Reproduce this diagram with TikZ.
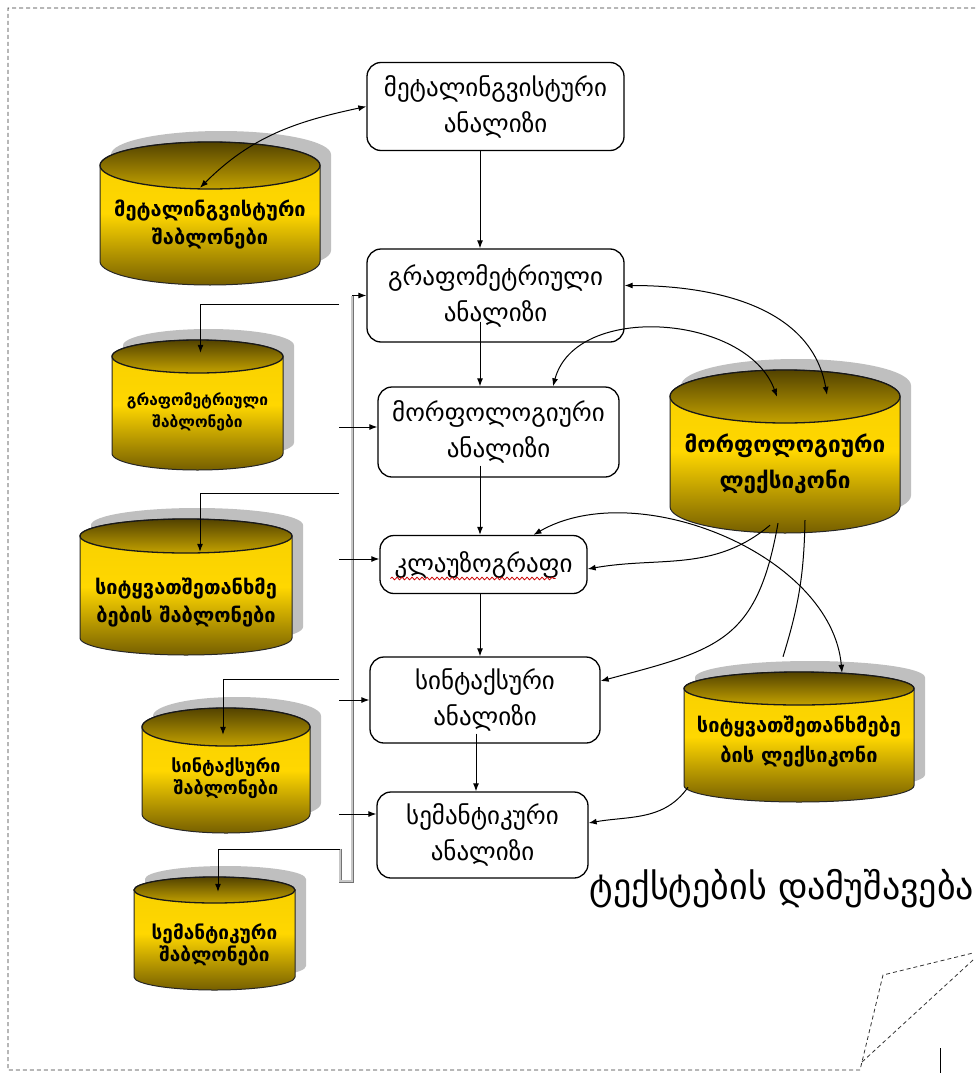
\documentclass[tikz,border=0pt]{standalone}
\usepackage{fontspec}
\setmainfont{DejaVu Sans}
\usetikzlibrary{shapes,arrows.meta,calc,decorations.pathmorphing}

\definecolor{golddark}{RGB}{118,95,0}
\definecolor{goldmid}{RGB}{196,162,0}
\definecolor{goldlight}{RGB}{255,215,0}

\tikzstyle{arrow}=[draw, line width=1pt, -{Latex[length=8pt,width=6pt]}]
\tikzstyle{both}=[draw, line width=1pt, {Latex[length=8pt,width=6pt]}-{Latex[length=8pt,width=6pt]}]
\tikzstyle{plain}=[draw, line width=1pt]
\tikzstyle{box}=[draw, line width=1.3pt, rounded corners=14pt, fill=white, align=center, inner sep=0pt, font=\fontsize{25}{36}\selectfont]
\tikzstyle{tankshadow}=[fill=black!25]
\tikzstyle{tankbody}=[draw=black!85, line width=1pt, top color=goldlight!85!goldmid, bottom color=golddark, middle color=goldlight]
\tikzstyle{tanklid}=[top color=golddark!70!black, bottom color=goldmid]
\tikzstyle{tankline}=[draw=black!90, line width=1.3pt]
\tikzstyle{tanktext}=[align=center, inner sep=0pt]
\tikzstyle{bus}=[draw=black!55, line width=0.8pt, double=black!22, double distance=1.4pt]
\tikzstyle{frame}=[draw, line width=0.8pt, black!80, dash pattern=on 4pt off 3pt]

% name, centre, width, height, lid radius, strut, font size, text
\newcommand{\tank}[8]{%
  \begin{scope}[shift={#2}]
    \path[tankshadow] ({-#3/2+11},{#4/2-#5+11}) arc[start angle=180,end angle=0,x radius=#3/2,y radius=#5] -- ({#3/2+11},{-#4/2+#5+11}) arc[start angle=0,end angle=-180,x radius=#3/2,y radius=#5] -- cycle;
    \path[tankbody] ({-#3/2},{#4/2-#5}) arc[start angle=180,end angle=0,x radius=#3/2,y radius=#5] -- ({#3/2},{-#4/2+#5}) arc[start angle=0,end angle=-180,x radius=#3/2,y radius=#5] -- cycle;
    \path[tanklid] (0,{#4/2-#5}) ellipse[x radius=#3/2,y radius=#5];
    \draw[tankline] (0,{#4/2-#5}) ellipse[x radius=#3/2,y radius=#5];
    \node[tanktext, minimum width=#3pt, minimum height=#4pt, font=\bfseries\fontsize#7\selectfont] (#1) at (0,0) {\rule{0pt}{#6pt}#8};
  \end{scope}}

\begin{document}
\begin{tikzpicture}[x=1pt,y=1pt]
\useasboundingbox (0,0) rectangle (975,-1073);

\node [box, minimum width=257pt, minimum height=88pt] (mla) at (495.5,-106.5) {მეტალინგვისტური\\ანალიზი};
\node [box, minimum width=257pt, minimum height=93pt] (gma) at (495.5,-295.5) {გრაფომეტრიული\\ანალიზი};
\node [box, minimum width=241pt, minimum height=90pt] (mfa) at (498.5,-432) {მორფოლოგიური\\ანალიზი};
\node [box, minimum width=207pt, minimum height=58pt] (klz) at (483.5,-564.5) {კლაუზოგრაფი};
\node [box, minimum width=230pt, minimum height=86pt] (sna) at (485,-700) {სინტაქსური\\ანალიზი};
\node [box, minimum width=211pt, minimum height=86pt] (sma) at (482.5,-835) {სემანტიკური\\ანალიზი};

\tank{mtpl}{(210,-213.5)}{220}{143}{23.5}{38}{{20}{28}}{მეტალინგვისტური\\შაბლონები}
\tank{gtpl}{(197.5,-405)}{171}{130}{16.5}{26}{{15.5}{22}}{გრაფომეტრიული\\შაბლონები}
\tank{wtpl}{(186,-587)}{212}{136}{17}{47}{{20}{28}}{სიტყვათშეთანხმე\\ბების შაბლონები}
\tank{ttpl}{(226,-770.5)}{168}{125}{19}{30}{{18}{22}}{სინტაქსური\\შაბლონები}
\tank{stpl}{(214.5,-933.5)}{161}{113}{13}{39}{{19}{22}}{სემანტიკური\\შაბლონები}
\tank{mlex}{(785,-451.5)}{230}{163}{26.5}{44}{{22.5}{36}}{მორფოლოგიური\\ლექსიკონი}
\tank{wlex}{(799,-737)}{230}{130}{16.5}{25}{{20}{30}}{სიტყვათშეთანხმებე\\ბის ლექსიკონი}

\node (title) at (782,-889) {\fontsize{36}{40}\selectfont ტექსტების დამუშავება};

\draw [red!80!black, line width=0.8pt, decorate, decoration={snake, amplitude=1.3pt, segment length=5pt}] ($(klz.center)+(-93,-14)$) -- ($(klz.center)+(72,-14)$);

\coordinate (spine) at (480,0);
\coordinate (spinelow) at (476,0);
\draw [arrow] (mla.south -| spine) -- (gma.north -| spine);
\draw [arrow] ($(gma.south -| spine)+(0,21)$) -- (mfa.north -| spine);
\draw [arrow] ($(mfa.south -| spine)+(0,12)$) -- (klz.north -| spine);
\draw [arrow] (klz.south -| spine) -- (sna.north -| spine);
\draw [arrow] ($(sna.south -| spinelow)+(0,10)$) -- (sma.north -| spinelow);

\coordinate (bustop) at (352,-295.5);
\coordinate (busbot) at (352,-881);
\coordinate (jog) at (340,-881);
\coordinate (ftE) at (340,-849);
\coordinate (ftB) at (339,-304);
\coordinate (ftC) at (339,-493);
\coordinate (ftD) at (339,-679);
\draw [bus] (ftE) -- (jog) -- (busbot) -- (bustop);
\draw [arrow] (bustop) -- (gma.west);
\draw [arrow] (ftB) -| ($(gtpl.north)+(3,-13)$);
\draw [arrow] (ftC) -| ($(wtpl.north)+(14,-33)$);
\draw [arrow] (ftD) -| ($(ttpl.north)+(-3,-27)$);
\draw [arrow] (ftE) -| ($(stpl.north)+(3.5,-15)$);

\draw [arrow] ($(mfa.west)+(-38,5)$) -- ($(mfa.west)+(0,5)$);
\draw [arrow] ($(klz.west)+(-40,5.5)$) -- ($(klz.west)+(0,5.5)$);
\draw [arrow] ($(sna.west)+(-30,0)$) -- (sna.west);
\draw [arrow] ($(sma.west)+(-37,21)$) -- ($(sma.west)+(0,21)$);

\draw [both] ($(mtpl.north)+(-10,-46)$) to[out=45,in=192] (mla.west);
\draw [both] ($(gma.east)+(0,10)$) to[out=0,in=100] ($(mlex.north)+(42,-25)$);
\draw [both] ($(mfa.north)+(54.5,0)$) to[out=75,in=110] ($(mlex.north)+(-8,-27)$);
\draw [arrow] ($(mlex.south)+(-15,8)$) to[out=-140,in=10] ($(klz.east)+(0,-4.5)$);
\draw [arrow] ($(mlex.south)+(-7,10)$) to[out=-100,in=15,looseness=1.3] ($(sna.east)+(0,19)$);
\draw [plain] ($(mlex.south)+(20,13)$) to[bend left=8] ($(wlex.north)+(-16,15)$);
\draw [both] ($(klz.north)+(50,0)$) to[out=30,in=95,looseness=0.9] ($(wlex.north)+(43,-1)$);
\draw [arrow] ($(wlex.south)+(-111,15)$) to[out=-125,in=10] ($(sma.east)+(0,12)$);

\draw [frame] (975,-8) -- (8,-8) -- (8,-1070) -- (860,-1070) -- (883,-975) -- (973,-953);
\draw [frame] (862,-1062) -- (973,-960);
\draw [line width=1pt] (940,-1048) -- (940,-1073);

\end{tikzpicture}
\end{document}
